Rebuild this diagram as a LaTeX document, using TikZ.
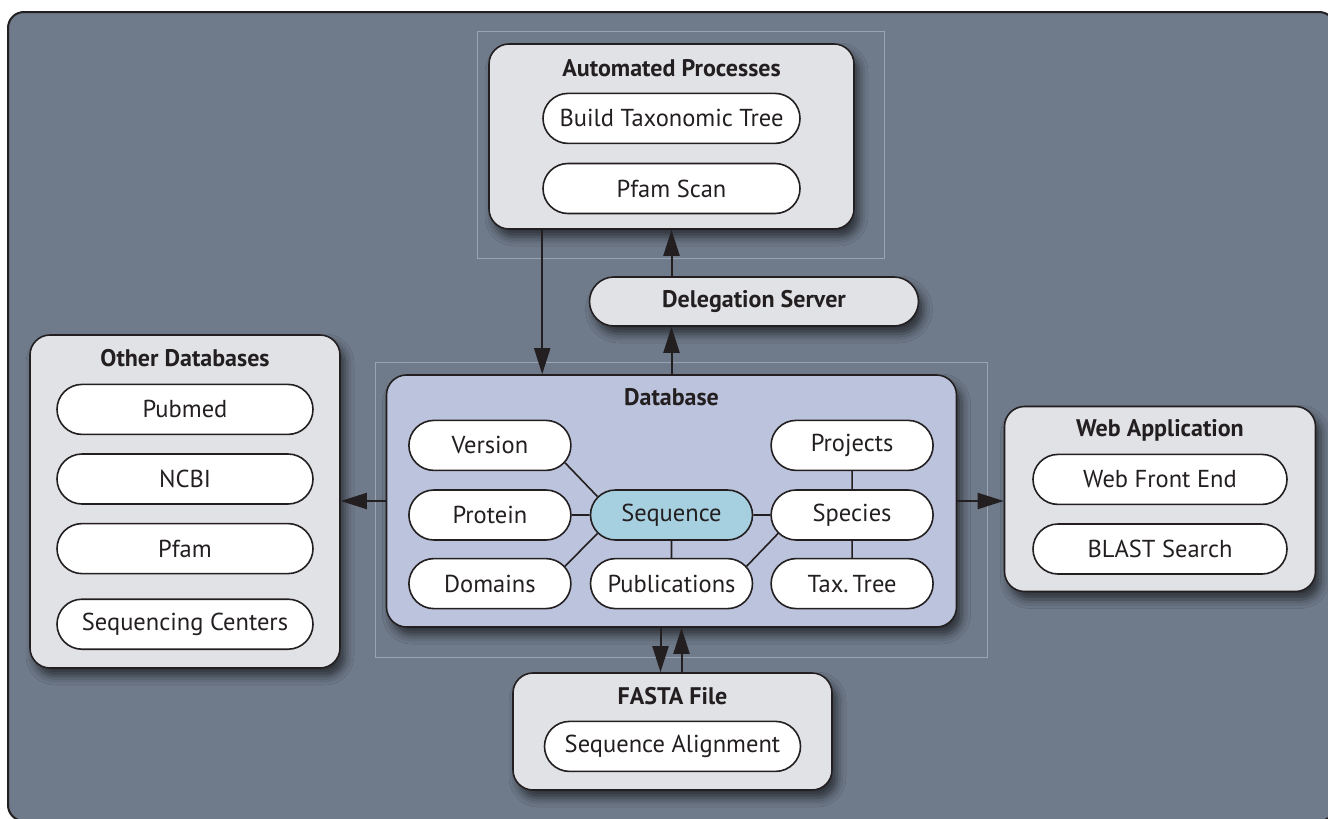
\documentclass[tikz,border=0pt]{standalone}
\usepackage{fontspec}
\setmainfont{PT Sans}
\usetikzlibrary{positioning, shapes.misc, arrows.meta, shadows.blur}

\definecolor{slate}{HTML}{6F7A8A}
\definecolor{boxgrey}{HTML}{E1E2E6}
\definecolor{dbblue}{HTML}{BCC3DC}
\definecolor{seqblue}{HTML}{A6CFE0}
\definecolor{ink}{HTML}{231F20}
\definecolor{guidegrey}{HTML}{9AA3B1}

\begin{document}
\begin{tikzpicture}[x=1pt, y=-1pt,
  boxshadow/.style={blur shadow={shadow xshift=5pt, shadow yshift=-8pt,
      shadow blur radius=9pt, shadow opacity=60}},
  groupbox/.style={draw=ink, line width=1.6pt, fill=boxgrey, rectangle,
      rounded corners=20pt, boxshadow},
  grouptitle/.style={inner sep=0pt, text=ink, text height=15pt, text depth=5pt,
      font=\bfseries\fontsize{24}{28}\selectfont},
  pill/.style={draw=ink, line width=1.6pt, fill=white, rounded rectangle,
      minimum height=50pt, inner sep=0pt, text=ink,
      font=\fontsize{24.5}{28}\selectfont},
  dbpill/.style={pill, minimum width=162pt},
  link/.style={draw=ink, line width=1.6pt},
  flow/.style={draw=ink, line width=2pt, -{Triangle[length=26pt, width=16pt]}},
  guideline/.style={draw=guidegrey, line width=0.8pt}]

  \useasboundingbox (0,0) rectangle (1328,819);
  \draw[ink, line width=2pt, fill=slate, rounded corners=16pt] (8,12) rectangle (1335,821);

  \draw[guideline] (477,31.5) rectangle (884.5,258.5);
  \draw[guideline] (375.5,362.5) rectangle (987,657.5);

  %==================================================

  \node[groupbox, minimum width=365pt, minimum height=185pt] (auto_proc) at (671.5,136.5) {};
  \node[grouptitle, below=18pt of auto_proc.north] (auto_title) {Automated Processes};
  \node[pill, minimum width=257pt, below=11pt of auto_title] (build_tree) {Build Taxonomic Tree};
  \node[pill, minimum width=257pt, below=18.5pt of build_tree] (pfam_scan) {Pfam Scan};

  \node[pill, fill=boxgrey, boxshadow, minimum width=329pt, minimum height=49pt,
        font=\bfseries\fontsize{24}{28}\selectfont] (deleg) at (754,301.5) {Delegation Server};

  %==================================================

  \node[groupbox, minimum width=310pt, minimum height=333pt] (other_db) at (185,501.5) {};
  \node[grouptitle, below=17pt of other_db.north] (other_title) {Other Databases};
  \node[pill, minimum width=256pt, below=12pt of other_title] (pubmed) {Pubmed};
  \node[pill, minimum width=256pt, below=18pt of pubmed] (ncbi) {NCBI};
  \node[pill, minimum width=256pt, below=18pt of ncbi] (pfam) {Pfam};
  \node[pill, minimum width=256pt, below=24pt of pfam] (seq_centers) {Sequencing Centers};

  %==================================================

  \node[groupbox, fill=dbblue, minimum width=570pt, minimum height=252pt] (db) at (671.5,501) {};
  \node[grouptitle, below=16pt of db.north] (db_title) {Database};
  \node[dbpill, fill=seqblue] (sequence) at ([yshift=-14pt]db.center) {Sequence};
  \node[dbpill, left=18pt of sequence] (protein) {Protein};
  \node[dbpill, right=17pt of sequence] (species) {Species};
  \node[dbpill, above=18pt of protein] (version) {Version};
  \node[dbpill, below=17pt of protein] (domains) {Domains};
  \node[dbpill, below=17pt of sequence] (pubs) {Publications};
  \node[dbpill, above=18pt of species] (projects) {Projects};
  \node[dbpill, below=17pt of species] (tax_tree) {Tax.\,Tree};

  \draw[link] (version.-13) -- (sequence.166);
  \draw[link] (protein) -- (sequence);
  \draw[link] (domains.13) -- (sequence.194);
  \draw[link] (sequence) -- (pubs);
  \draw[link] (sequence) -- (species);
  \draw[link] (pubs.13) -- (species.194);
  \draw[link] (projects) -- (species);
  \draw[link] (species) -- (tax_tree);

  %==================================================

  \node[groupbox, minimum width=311pt, minimum height=185pt] (web_app) at (1160,499) {};
  \node[grouptitle, below=16pt of web_app.north] (web_title) {Web Application};
  \node[pill, minimum width=254pt, below=11.5pt of web_title] (web_front) {Web Front End};
  \node[pill, minimum width=254pt, below=18pt of web_front] (blast) {BLAST Search};

  \node[groupbox, minimum width=319pt, minimum height=117pt] (fasta) at (672.5,731.5) {};
  \node[grouptitle, below=17pt of fasta.north] (fasta_title) {FASTA File};
  \node[pill, minimum width=256pt, below=11pt of fasta_title] (seq_align) {Sequence Alignment};

  %==================================================

  \draw[flow] (build_tree.west |- auto_proc.south) -- (build_tree.west |- db.north);
  \draw[flow] (deleg.north -| auto_proc.south) -- (auto_proc.south);
  \draw[flow] (db.north) -- (db.north |- deleg.south);
  \draw[flow] (db.west) -- (db.west -| other_db.east);
  \draw[flow] (db.east) -- (db.east -| web_app.west);
  \draw[flow] ([xshift=-11pt]db.south) -- ([xshift=-11pt]db.south |- fasta.north);
  \draw[flow] ([xshift=9pt]fasta.north) -- ([xshift=9pt]fasta.north |- db.south);

\end{tikzpicture}
\end{document}
